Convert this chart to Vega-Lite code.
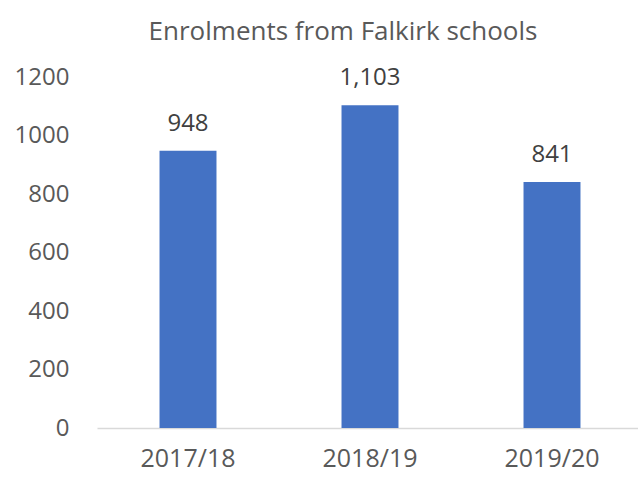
{
  "$schema": "https://vega.github.io/schema/vega-lite/v6.json",
  "width": 546,
  "height": 351,
  "autosize": {"type": "none"},
  "padding": {"left": 97, "top": 77, "right": 0, "bottom": 51},
  "background": "white",
  "title": {
    "text": "Enrolments from Falkirk schools",
    "font": "Open Sans",
    "fontSize": 26,
    "fontWeight": "normal",
    "color": "#595959",
    "anchor": "middle",
    "dx": -27,
    "offset": 20
  },
  "data": {
    "values": [
      {"year": "2017/18", "enrolments": 948},
      {"year": "2018/19", "enrolments": 1103},
      {"year": "2019/20", "enrolments": 841}
    ]
  },
  "encoding": {
    "x": {
      "field": "year",
      "type": "nominal",
      "sort": null,
      "scale": {"paddingInner": 0.687, "paddingOuter": 0.3435},
      "axis": {
        "title": null,
        "labelAngle": 0,
        "ticks": false,
        "domainColor": "#d9d9d9",
        "domainWidth": 1.5,
        "labelFont": "Open Sans",
        "labelFontSize": 25,
        "labelColor": "#595959",
        "labelPadding": 18
      }
    },
    "y": {
      "field": "enrolments",
      "type": "quantitative",
      "scale": {"domain": [0, 1200]},
      "axis": {
        "title": null,
        "values": [0, 200, 400, 600, 800, 1000, 1200],
        "format": "d",
        "grid": false,
        "domain": false,
        "ticks": false,
        "labelFont": "Open Sans",
        "labelFontSize": 24,
        "labelColor": "#595959",
        "labelPadding": 28
      }
    }
  },
  "layer": [
    {"mark": {"type": "bar", "color": "#4472c4"}},
    {
      "mark": {
        "type": "text",
        "baseline": "alphabetic",
        "dy": -20,
        "font": "Open Sans",
        "fontSize": 24,
        "color": "#404040"
      },
      "encoding": {
        "text": {"field": "enrolments", "type": "quantitative", "format": ","}
      }
    }
  ],
  "config": {"view": {"stroke": null}}
}
